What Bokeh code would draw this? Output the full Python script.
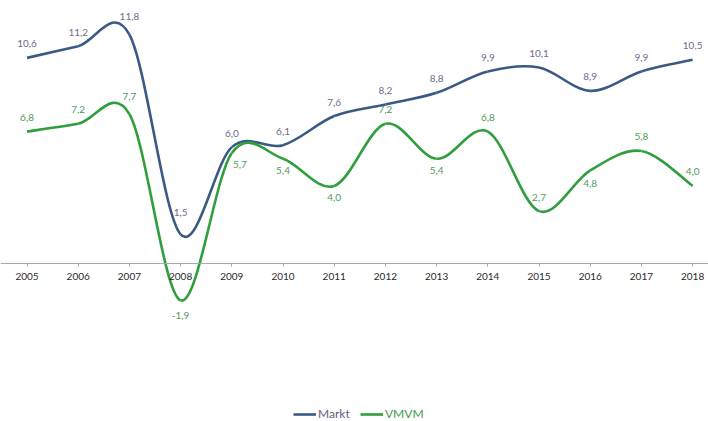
from bokeh.plotting import figure
from bokeh.models import Range1d, FixedTicker, Legend, LegendItem, ColumnDataSource
from bokeh.core.properties import value
from bokeh.embed import file_html
from bokeh.resources import INLINE

years = [2005, 2006, 2007, 2008, 2009, 2010, 2011, 2012, 2013, 2014, 2015, 2016, 2017, 2018]
markt = [10.6, 11.2, 11.8, 1.5, 6.0, 6.1, 7.6, 8.2, 8.8, 9.9, 10.1, 8.9, 9.9, 10.5]
vmvm = [6.8, 7.2, 7.7, -1.9, 5.7, 5.4, 4.0, 7.2, 5.4, 6.8, 2.7, 4.8, 5.8, 4.0]
series_names = ["Markt", "VMVM"]

# label placement (style): vertical pixel offsets of the value labels (negative = above)
markt_dy = [-14, -14, -18, -22, -14, -14, -14, -14, -14, -14, -14, -14, -14, -14]
vmvm_dy = [-14, -14, -18, 15, 12, 12, 12, -14, 12, -14, -14, 13, -14, -14]
vmvm_dx = [0, 0, 0, 0, 8, 0, 0, 0, 0, 0, 0, 0, 0, 0]

FONT = "Lato"
C_MARKT = "#3a5a84"
C_VMVM = "#2f9e3c"
C_MARKT_LBL = "#6c6c8c"
C_VMVM_LBL = "#4f9a5e"

p = figure(width=708, height=421, output_backend="svg", toolbar_location=None,
           min_border=0, outline_line_color=None,
           x_range=Range1d(2004.482, 2018.310), y_range=Range1d(-8.144, 13.557))
p.background_fill_color = "white"
p.grid.visible = False
p.yaxis.visible = False

ax = p.xaxis[0]
ax.fixed_location = 0
ax.ticker = FixedTicker(ticks=years)
ax.minor_tick_line_color = None
ax.major_tick_in = 0
ax.major_tick_out = 3
ax.major_tick_line_color = "#a8a8a8"
ax.axis_line_color = "#a8a8a8"
ax.axis_line_width = 1
ax.major_label_text_font = FONT
ax.major_label_text_font_size = "10px"
ax.major_label_text_color = "#2a2a2a"
ax.major_label_standoff = 6


def smooth_segments(xs, ys):
    n = len(xs)
    x0, y0, x1, y1, cx0, cy0, cx1, cy1 = [], [], [], [], [], [], [], []
    for i in range(n - 1):
        xp, yp = (xs[i - 1], ys[i - 1]) if i > 0 else (xs[i], ys[i])
        xn, yn = (xs[i + 2], ys[i + 2]) if i + 2 < n else (xs[i + 1], ys[i + 1])
        x0.append(xs[i]); y0.append(ys[i])
        x1.append(xs[i + 1]); y1.append(ys[i + 1])
        cx0.append(xs[i] + (xs[i + 1] - xp) / 6.0)
        cy0.append(ys[i] + (ys[i + 1] - yp) / 6.0)
        cx1.append(xs[i + 1] - (xn - xs[i]) / 6.0)
        cy1.append(ys[i + 1] - (yn - ys[i]) / 6.0)
    return ColumnDataSource(dict(x0=x0, y0=y0, x1=x1, y1=y1, cx0=cx0, cy0=cy0, cx1=cx1, cy1=cy1))


r_m = p.bezier("x0", "y0", "x1", "y1", "cx0", "cy0", "cx1", "cy1",
               source=smooth_segments(years, markt), line_color=C_MARKT, line_width=2.6)
r_v = p.bezier("x0", "y0", "x1", "y1", "cx0", "cy0", "cx1", "cy1",
               source=smooth_segments(years, vmvm), line_color=C_VMVM, line_width=2.6)


def fmt(v):
    return f"{v:.1f}".replace(".", ",")


lbl_m = ColumnDataSource(dict(x=years, y=markt, t=[fmt(v) for v in markt], dy=markt_dy))
lbl_v = ColumnDataSource(dict(x=years, y=vmvm, t=[fmt(v) for v in vmvm], dy=vmvm_dy, dx=vmvm_dx))
p.text("x", "y", text="t", y_offset="dy", source=lbl_m, text_align="center",
       text_baseline="middle", text_font=value(FONT), text_font_size="10px",
       text_color=C_MARKT_LBL)
p.text("x", "y", text="t", y_offset="dy", x_offset="dx", source=lbl_v, text_align="center",
       text_baseline="middle", text_font=value(FONT), text_font_size="10px",
       text_color=C_VMVM_LBL)

common = dict(orientation="horizontal", border_line_color=None, background_fill_alpha=0,
              label_text_font=FONT, label_text_font_size="12px",
              glyph_width=23, glyph_height=14, label_height=14, label_standoff=2,
              padding=0, margin=0)
leg1 = Legend(items=[LegendItem(label=series_names[0], renderers=[r_m])],
              location=(293, 0), label_text_color="#5e5e7e", **common)
leg2 = Legend(items=[LegendItem(label=series_names[1], renderers=[r_v])],
              location=(360, 0), label_text_color="#3f9a4c", **common)
p.add_layout(leg1, "center")
p.add_layout(leg2, "center")

open("out.html", "w").write(file_html(p, INLINE))
